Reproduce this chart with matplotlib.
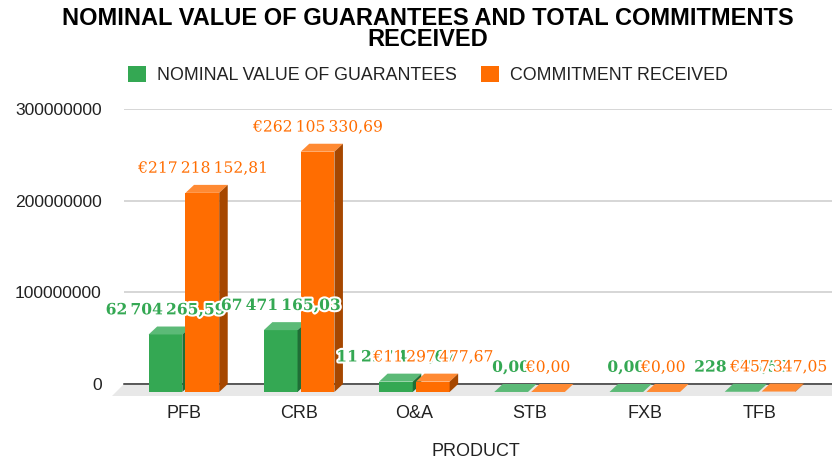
import matplotlib
matplotlib.use("Agg")
import matplotlib.pyplot as plt
import matplotlib.patheffects as pe
from matplotlib.patches import Polygon, Patch

# Data
products = ["PFB", "CRB", "O&A", "STB", "FXB", "TFB"]
guarantees = [62704265.59, 67471165.03, 11297477.67, 0.0, 0.0, 228673.52]
commitments = [217218152.81, 262105330.69, 11297477.67, 0.0, 0.0, 457347.05]
guarantee_labels = ["62\u2009704\u2009265,59", "67\u2009471\u2009165,03", "11\u2009297\u2009477,67",
                    "0,00", "0,00", "228\u2009673,52"]
commitment_labels = ["€217\u2009218\u2009152,81", "€262\u2009105\u2009330,69", "€11\u2009297\u2009477,67",
                     "€0,00", "€0,00", "€457\u2009347,05"]
y_ticks = [0, 100000000, 200000000, 300000000]

GREEN = ("#34a853", "#5cba77", "#1f6e36")
ORANGE = ("#ff6d01", "#ff8a33", "#a64700")

# fake 3D depth, in data units
DEPTH_X = 0.074
DEPTH_Y = 8.7e6
BAR_W = 0.2925
OFFSET = 0.16

plt.rcParams["font.family"] = ["Liberation Sans", "DejaVu Sans"]

W, H = 832, 463
fig = plt.figure(figsize=(W / 100, H / 100), dpi=100)
ax = fig.add_axes([124 / W, 1 - 384 / H, (W - 124) / W, 275 / H])
ax.set_xlim(-0.52, 5.625)
ax.set_ylim(0, 300000000)
for s in ax.spines.values():
    s.set_visible(False)

ax.set_yticks(y_ticks)
ax.set_yticklabels([str(v) for v in y_ticks], fontsize=12.6, color="#222222")
ax.set_xticks(range(len(products)))
ax.set_xticklabels(products, fontsize=13, color="#222222")
ax.tick_params(axis="both", length=0)
ax.tick_params(axis="y", pad=16)
ax.tick_params(axis="x", pad=15)
ax.grid(axis="y", color="#cccccc", linewidth=1.1, zorder=0)
ax.set_axisbelow(True)

# floor and baseline
floor = Polygon([(-0.52, 0), (5.625, 0), (5.625, -13e6), (-0.62, -13e6)],
                facecolor="#e8e8e8", edgecolor="none", clip_on=False, zorder=1)
ax.add_patch(floor)
ax.plot([-0.52, 5.625], [0, 0], color="#333333", linewidth=1.1, zorder=2, clip_on=False)


def draw_bar(x, value, colors, z):
    left = x - BAR_W / 2
    right = x + BAR_W / 2
    front_top = value - DEPTH_Y
    ax.bar(x, value, BAR_W, bottom=-DEPTH_Y, color=colors[0], zorder=z, clip_on=False)
    top = [(left, front_top), (right, front_top), (right + DEPTH_X, value), (left + DEPTH_X, value)]
    ax.add_patch(Polygon(top, facecolor=colors[1], edgecolor="none", zorder=z, clip_on=False))
    side = [(right, -DEPTH_Y), (right + DEPTH_X, 0), (right + DEPTH_X, value), (right, front_top)]
    ax.add_patch(Polygon(side, facecolor=colors[2], edgecolor="none", zorder=z, clip_on=False))


for i in range(len(products)):
    draw_bar(i - OFFSET, guarantees[i], GREEN, 3)
    draw_bar(i + OFFSET, commitments[i], ORANGE, 4)

halo = [pe.withStroke(linewidth=3, foreground="white")]
for i in range(len(products)):
    ax.annotate(guarantee_labels[i], (i - OFFSET, guarantees[i]), xytext=(0, 12),
                textcoords="offset points", ha="center", va="center", family="DejaVu Serif",
                fontsize=11.2, fontweight="bold", color=GREEN[0], path_effects=halo, zorder=5,
                annotation_clip=False)
for i in range(len(products)):
    ax.annotate(commitment_labels[i], (i + OFFSET, commitments[i]), xytext=(0, 12),
                textcoords="offset points", ha="center", va="center", family="DejaVu Serif",
                fontsize=11.2, color=ORANGE[0], path_effects=halo, zorder=6,
                annotation_clip=False)

fig.text(428 / W, 1 - 29 / H, "NOMINAL VALUE OF GUARANTEES AND TOTAL COMMITMENTS\nRECEIVED",
         ha="center", va="center", fontsize=17, fontweight="bold", color="black", linespacing=0.92)
fig.text(476 / W, 1 - 452 / H, "PRODUCT", ha="center", va="center", fontsize=13, color="#222222")

handles = [Patch(facecolor=GREEN[0]), Patch(facecolor=ORANGE[0])]
fig.legend(handles, ["NOMINAL VALUE OF GUARANTEES", "COMMITMENT RECEIVED"],
           loc="center", bbox_to_anchor=(428 / W, 1 - 75 / H), ncol=2, frameon=False,
           fontsize=12.8, handlelength=1.0, handleheight=1.0, handletextpad=0.62,
           columnspacing=1.4, labelcolor="#222222")

fig.savefig("out.png", dpi=100)
